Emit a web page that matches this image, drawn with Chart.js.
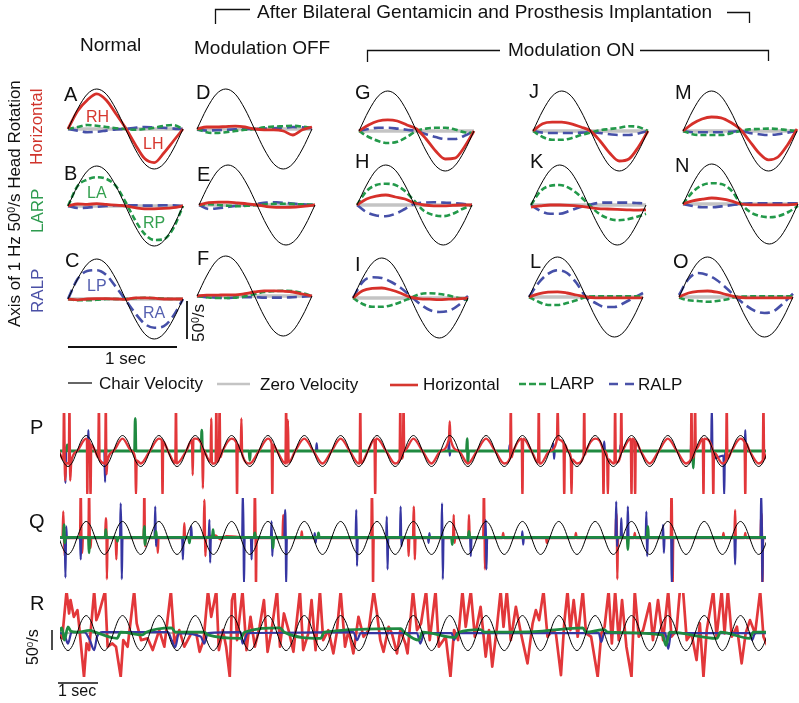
<!DOCTYPE html>
<html><head><meta charset="utf-8">
<script src="https://cdn.jsdelivr.net/npm/chart.js@4.4.1/dist/chart.umd.min.js"></script>
<style>
html,body{margin:0;padding:0;background:#fff;}
#wrap{position:relative;width:799px;height:703px;overflow:hidden;font-family:"Liberation Sans",Arial,Helvetica,sans-serif;color:#111;}
.t{position:absolute;white-space:nowrap;line-height:1;}
.rot{transform-origin:0 0;transform:rotate(-90deg);}
.sup{font-size:0.62em;position:relative;top:-0.5em;}
canvas{position:absolute;}
svg{position:absolute;left:0;top:0;}
</style></head>
<body>
<div id="wrap">
<svg width="799" height="703">
 <g fill="none" stroke="#111" stroke-width="1.3">
  <polyline points="215.5,24 215.5,9.5 250,9.5"/>
  <polyline points="727,12.5 749.5,12.5 749.5,23"/>
  <polyline points="367.5,62 367.5,50.5 500,50.5"/>
  <polyline points="640,50.5 768.5,50.5 768.5,61"/>
  <line x1="187" y1="301" x2="187" y2="339" stroke-width="1.8"/>
  <line x1="68" y1="347" x2="177" y2="347" stroke-width="1.8"/>
  <line x1="52" y1="630" x2="52" y2="650" stroke-width="1.5"/>
  <line x1="58" y1="683" x2="98" y2="683" stroke-width="1.5"/>
  <line x1="68" y1="383" x2="92" y2="383" stroke="#000" stroke-width="1.2"/>
  <line x1="217" y1="384" x2="250" y2="384" stroke="#c4c4c4" stroke-width="2.5"/>
  <line x1="390" y1="385" x2="418" y2="385" stroke="#d6372f" stroke-width="2.6"/>
  <line x1="519" y1="384" x2="547" y2="384" stroke="#2a9a4a" stroke-width="2.6" stroke-dasharray="7 3"/>
  <line x1="609" y1="384" x2="635" y2="384" stroke="#4a52a8" stroke-width="2.6" stroke-dasharray="9 7"/>
 </g>
</svg>
<div class="t" style="left:257px;top:1.5px;font-size:19px">After Bilateral Gentamicin and Prosthesis Implantation</div>
<div class="t" style="left:80px;top:34.5px;font-size:19px">Normal</div>
<div class="t" style="left:194px;top:37.5px;font-size:19px">Modulation OFF</div>
<div class="t" style="left:508px;top:39.5px;font-size:19px">Modulation ON</div>

<div class="t rot" style="left:6px;top:327px;font-size:17px">Axis of 1 Hz 50<span class="sup">0</span>/s Head Rotation</div>
<div class="t rot" style="left:28px;top:165px;font-size:17px;color:#d0342c">Horizontal</div>
<div class="t rot" style="left:29px;top:233px;font-size:17px;color:#2e9b4f">LARP</div>
<div class="t rot" style="left:29px;top:313px;font-size:17px;color:#4b50a6">RALP</div>

<div class="t" style="left:86px;top:109px;font-size:16px;color:#d6372f">RH</div>
<div class="t" style="left:143px;top:136px;font-size:16px;color:#d6372f">LH</div>
<div class="t" style="left:87px;top:185px;font-size:16px;color:#34a050">LA</div>
<div class="t" style="left:143px;top:215px;font-size:16px;color:#34a050">RP</div>
<div class="t" style="left:87px;top:278px;font-size:16px;color:#5560b0">LP</div>
<div class="t" style="left:143px;top:305px;font-size:16px;color:#5560b0">RA</div>

<div class="t rot" style="left:190px;top:342px;font-size:17px">50<span class="sup">0</span>/s</div>
<div class="t" style="left:105px;top:349.5px;font-size:17px">1 sec</div>

<div class="t" style="left:99px;top:375px;font-size:17px">Chair Velocity</div>
<div class="t" style="left:260px;top:376px;font-size:17px">Zero Velocity</div>
<div class="t" style="left:423px;top:376px;font-size:17px">Horizontal</div>
<div class="t" style="left:550px;top:375px;font-size:17px">LARP</div>
<div class="t" style="left:638px;top:376px;font-size:17px">RALP</div>

<div class="t" style="left:30px;top:416.5px;font-size:20px">P</div>
<div class="t" style="left:29px;top:510.5px;font-size:20px">Q</div>
<div class="t" style="left:30px;top:592.5px;font-size:20px">R</div>
<div class="t rot" style="left:25px;top:665px;font-size:16px">50<span class="sup">0</span>/s</div>
<div class="t" style="left:58px;top:683px;font-size:16px">1 sec</div>
</div>

<script>
// ---------------- DATA ----------------
// small panels: one chair cycle, sampled every 1/12 cycle (values in units of the 50 deg/s chair amplitude)
const panelPhase = [0,1,2,3,4,5,6,7,8,9,10,11,12];
const chairPanel = [0,.5,.87,1,.87,.5,0,-.5,-.87,-1,-.87,-.5,0];
const zeroPanel  = [0,0,0,0,0,0,0,0,0,0,0,0,0];
const panelLetters = ['A','B','C','D','E','F','G','H','I','J','K','L','M','N','O'];

const horizA = [0,.45,.72,.88,.72,.38,.03,-.38,-.74,-.84,-.6,-.3,0];
const larpA  = [0,.05,.1,.08,.05,.02,0,-.02,0,.03,.08,.1,0];
const ralpA  = [0,-.04,-.08,-.07,-.04,-.01,0,.03,.05,.04,.03,.01,0];
const horizB = [0,.05,.04,.06,.04,.02,0,-.04,-.07,-.07,-.06,-.04,0];
const larpB  = [0,.5,.66,.72,.68,.5,.1,-.35,-.7,-.85,-.83,-.55,0];
const ralpB  = [0,-.05,-.04,-.02,0,.02,.02,.02,.01,.01,.02,.02,0];
const horizC = [0,-.02,0,.01,.01,0,-.01,.03,.03,.02,0,0,0];
const larpC  = [0,-.03,-.03,-.02,0,0,0,.02,.03,.02,.01,0,0];
const ralpC  = [0,.5,.7,.72,.6,.3,-.02,-.35,-.62,-.72,-.68,-.42,0];
const horizD = [0,.05,.05,.06,.07,.05,0,-.02,-.02,-.05,-.15,-.02,.05];
const larpD  = [0,-.08,-.1,-.08,-.05,-.02,0,.04,.06,.07,.08,.06,.02];
const ralpD  = [-.02,-.04,-.03,-.02,-.01,0,0,.01,.02,.03,.05,.04,.02];
const horizE = [0,.06,.07,.07,.05,.03,0,-.04,-.06,-.06,-.05,-.03,0];
const larpE  = [0,.02,0,-.02,-.03,-.02,0,.02,.03,.03,.02,.01,0];
const ralpE  = [0,-.1,-.08,-.05,-.02,0,.03,.06,.07,.05,.03,.01,0];
const horizF = [0,.02,.02,.03,.03,.06,.1,.13,.13,.12,.1,.05,0];
const larpF  = [0,-.03,-.05,-.05,-.04,-.01,.05,.1,.12,.13,.12,.07,0];
const ralpF  = [0,-.03,-.04,-.05,-.04,-.03,-.03,-.04,-.04,-.04,-.03,-.02,0];
const horizG = [0,.15,.25,.28,.25,.15,.05,-.2,-.5,-.7,-.68,-.4,0];
const larpG  = [0,-.15,-.25,-.3,-.27,-.15,0,.06,.08,.08,.04,-.03,-.05];
const ralpG  = [0,.05,.08,.08,.06,.03,0,-.08,-.15,-.2,-.2,-.12,0];
const horizH = [0,.15,.22,.25,.2,.15,.05,0,-.02,-.02,-.01,0,0];
const larpH  = [0,.35,.5,.53,.5,.35,.1,-.15,-.25,-.28,-.22,-.1,0];
const ralpH  = [0,-.18,-.26,-.28,-.22,-.1,.03,.06,.07,.06,.05,.03,0];
const horizI = [0,.18,.24,.25,.2,.12,.02,-.02,-.03,-.04,-.03,-.02,0];
const larpI  = [0,-.15,-.22,-.22,-.18,-.1,0,.1,.12,.1,.06,0,-.05];
const ralpI  = [0,.4,.52,.5,.4,.25,.05,-.15,-.3,-.35,-.32,-.18,.05];
const horizJ = [0,.18,.22,.22,.18,.1,0,-.25,-.55,-.75,-.7,-.4,0];
const larpJ  = [0,-.15,-.22,-.22,-.18,-.1,-.04,.02,.05,.08,.12,.1,0];
const ralpJ  = [0,-.04,-.05,-.05,-.05,-.04,-.03,-.05,-.08,-.1,-.1,-.06,0];
const horizK = [-.05,-.02,0,0,-.01,-.03,-.06,-.09,-.1,-.11,-.12,-.13,-.12];
const larpK  = [0,.35,.48,.5,.42,.25,.02,-.2,-.33,-.38,-.36,-.3,-.22];
const ralpK  = [0,-.15,-.22,-.22,-.15,-.06,0,.05,.06,.06,.06,.05,.04];
const horizL = [0,.08,.12,.13,.1,.05,0,-.02,-.02,-.02,-.02,-.02,-.02];
const larpL  = [0,-.12,-.2,-.2,-.15,-.08,0,.02,.02,.02,.02,.02,.02];
const ralpL  = [0,.35,.58,.67,.6,.35,0,-.15,-.25,-.25,-.15,-.02,.1];
const horizM = [0,.18,.3,.35,.33,.22,.05,-.25,-.55,-.72,-.65,-.35,.05];
const larpM  = [0,-.08,-.1,-.1,-.1,-.06,0,.04,.05,.06,.05,.02,0];
const ralpM  = [0,-.03,-.03,-.03,-.03,-.02,0,-.05,-.08,-.1,-.08,-.04,0];
const horizN = [0,.08,.12,.15,.13,.08,0,-.02,-.02,-.02,-.02,-.02,0];
const larpN  = [0,.3,.47,.52,.5,.35,.02,-.2,-.3,-.33,-.3,-.2,-.05];
const ralpN  = [0,-.05,-.08,-.08,-.06,-.03,0,.02,.02,.02,.02,.02,.02];
const horizO = [0,.1,.14,.15,.12,.06,0,-.02,-.02,-.02,-.02,-.02,-.02];
const larpO  = [-.02,-.08,-.1,-.12,-.1,-.06,0,.01,.02,.02,.02,.02,.02];
const ralpO  = [.05,.45,.6,.55,.42,.22,0,-.2,-.35,-.4,-.35,-.15,.08];

// long recordings: chair velocity sampled 8 times per second (1 Hz rotation)
const chairRate = 8;
const chairTrace = [
0,-.71,-1,-.71,0,.71,1,.71, 0,-.71,-1,-.71,0,.71,1,.71, 0,-.71,-1,-.71,0,.71,1,.71, 0,-.71,-1,-.71,0,.71,1,.71,
0,-.71,-1,-.71,0,.71,1,.71, 0,-.71,-1,-.71,0,.71,1,.71, 0,-.71,-1,-.71,0,.71,1,.71, 0,-.71,-1,-.71,0,.71,1,.71,
0,-.71,-1,-.71,0,.71,1,.71, 0,-.71,-1,-.71,0,.71,1,.71, 0,-.71,-1,-.71,0,.71,1,.71, 0,-.71,-1,-.71,0,.71,1,.71,
0,-.71,-1,-.71,0,.71,1,.71, 0,-.71,-1,-.71,0,.71,1,.71, 0,-.71,-1,-.71,0,.71,1,.71, 0,-.71,-1,-.71,0,.71,1,.71,
0,-.71,-1,-.71,0,.71,1,.71, 0,-.71,-1,-.71,0,.71,1,.71, 0,-.71,-1,-.71,0,.71,1,.71, 0,-.71,-1,-.71,0
];
const zeroTrace = [[0,0],[19.5,0]];

// P: eye velocity [time s, velocity in chair-amplitude units]
const horizP = [[0,0],[.12,-.55],[.14,3],[.17,-1.9],[.2,-.78],[.27,-.8],[.29,3],[.31,-1.9],[.34,-.7],[.5,0],[.75,.8],[.77,.75],[.78,-3],[.8,.7],[.85,.5],[.87,-3],[.89,.4],[1,0],[1.08,-.4],[1.1,3],[1.12,-.55],[1.25,-.8],[1.27,-.8],[1.29,3],[1.31,-1.5],[1.33,-.7],[1.5,0],[1.75,.8],[2,0],[2.1,-.5],[2.12,-3],[2.14,-.6],[2.25,-.8],[2.5,0],[2.75,.8],[2.83,.7],[2.85,-3],[2.87,.6],[3,0],[3.2,-.78],[3.22,3],[3.24,-.8],[3.5,0],[3.66,.7],[3.68,-1.55],[3.7,.78],[3.75,.8],[3.94,.3],[3.96,-2.4],[3.98,.1],[4,0],[4.17,-.7],[4.19,2.1],[4.21,-.8],[4.25,-.8],[4.31,-.76],[4.33,3],[4.35,-.7],[4.4,-.5],[4.42,3],[4.44,-.4],[4.5,0],[4.75,.8],[4.88,.55],[4.9,-3],[4.92,.4],[5,0],[5.02,2.1],[5.04,-.2],[5.25,-.8],[5.5,0],[5.75,.8],[5.85,.5],[5.87,-3],[5.89,.4],[6,0],[6.23,-.8],[6.25,3],[6.27,-.8],[6.28,-.8],[6.3,2],[6.32,-.75],[6.5,0],[6.75,.8],[7,0],[7.25,-.8],[7.5,0],[7.75,.8],[8,0],[8.25,-.8],[8.27,-.8],[8.29,3],[8.31,-.78],[8.5,0],[8.68,.75],[8.7,-3],[8.72,.8],[8.75,.8],[9,0],[9.25,-.8],[9.37,-.55],[9.39,3],[9.41,-.5],[9.46,-.35],[9.48,3],[9.5,0],[9.75,.8],[10,0],[10.25,-.8],[10.5,0],[10.73,.8],[10.75,1.9],[10.77,.8],[11,0],[11.25,-.8],[11.5,0],[11.75,.8],[12,0],[12.25,-.8],[12.41,-.45],[12.43,3],[12.45,-.4],[12.5,0],[12.73,.8],[12.75,-3],[12.77,.8],[13,0],[13.18,-.75],[13.2,3],[13.22,-.8],[13.25,-.8],[13.5,0],[13.7,.75],[13.72,3],[13.74,.8],[13.88,.5],[13.9,-3],[13.92,.4],[14,0],[14.08,-.4],[14.1,-3],[14.12,-.55],[14.25,-.8],[14.43,-.35],[14.45,3],[14.47,-.25],[14.5,0],[14.75,.8],[14.96,.1],[14.98,-3],[15,0],[15.08,-.4],[15.1,-3],[15.12,-.55],[15.25,-.8],[15.28,-.78],[15.3,3],[15.32,-.75],[15.45,-.25],[15.47,3],[15.49,-.05],[15.5,0],[15.73,.8],[15.75,-3],[15.77,.8],[15.83,.7],[15.85,-3],[15.87,.6],[16,0],[16.25,-.8],[16.5,0],[16.75,.8],[17,0],[17.25,-.8],[17.38,-.55],[17.4,3],[17.42,-.45],[17.48,-.1],[17.5,3],[17.52,.1],[17.71,.8],[17.73,-3],[17.75,.8],[17.98,.1],[18,-3],[18.02,-.1],[18.25,-.8],[18.35,-.6],[18.37,3],[18.39,-.5],[18.5,0],[18.75,.8],[18.86,.55],[18.88,-3],[18.9,.5],[19,0],[19.25,-.8],[19.36,-.6],[19.38,3],[19.4,-.5],[19.5,0]];
const ralpP = [[0,0],[.16,0],[.18,-2.06],[.2,.3],[.22,0],[.79,0],[.81,1.35],[.83,0],[1.25,0],[1.27,-2],[1.29,.2],[1.31,0],[7.07,0],[7.09,.5],[7.11,0],[10.71,0],[10.73,.7],[10.75,-.3],[10.77,0],[12.38,0],[12.4,.4],[12.42,0],[13.58,0],[13.6,.5],[13.62,-.5],[13.64,0],[14.98,0],[15,.6],[15.02,0],[15.43,0],[15.45,.4],[15.47,0],[17.38,0],[17.4,1],[17.42,0],[17.94,0],[17.96,3],[17.98,-.5],[18.28,-.3],[18.3,-3],[18.32,0],[18.86,0],[18.88,1.35],[18.9,0],[19.5,0]];
const larpP = [[0,0],[.21,0],[.23,.4],[.25,0],[2.08,0],[2.1,2.1],[2.12,0],[3.91,0],[3.93,1.35],[3.95,0],[5.23,0],[5.25,-.6],[5.27,0],[11.21,0],[11.23,.8],[11.25,-.8],[11.27,0],[17.43,0],[17.45,-1.1],[17.47,0],[19.5,0]];

// Q
const horizQ = [[0,0],[.1,.05],[.12,1.6],[.14,0],[.16,-1.1],[.18,0],[.58,0],[.6,3],[.62,0],[.64,-.9],[.66,0],[.81,0],[.83,3],[.85,0],[.87,-.6],[.89,0],[1.27,0],[1.29,1.2],[1.31,0],[1.32,-2.5],[1.34,0],[1.56,0],[1.58,-1.3],[1.6,0],[2.33,0],[2.35,3],[2.37,-.5],[2.39,0],[2.7,0],[2.72,-.9],[2.74,0],[3.43,0],[3.45,.9],[3.47,0],[3.98,0],[4,2.3],[4.02,0],[4.03,-1.1],[4.05,0],[4.3,.15],[4.45,-.1],[4.6,.1],[5.37,0],[5.39,3],[5.41,0],[5.42,-3],[5.44,0],[6.15,0],[6.17,1.4],[6.19,0],[6.66,0],[6.68,.4],[6.7,0],[8.59,0],[8.61,3],[8.63,0],[8.64,-3],[8.66,0],[9.6,0],[9.62,-1.1],[9.64,0],[9.74,0],[9.76,1.9],[9.78,0],[9.79,-1.3],[9.81,0],[10.84,0],[10.86,1.4],[10.88,-.3],[10.9,0],[11.26,0],[11.28,1.4],[11.3,0],[11.67,0],[11.69,3],[11.71,0],[11.72,-1.9],[11.74,0],[12.2,0],[12.22,.3],[12.24,0],[13.4,0],[13.42,-.3],[13.44,0],[14.2,0],[14.22,.3],[14.24,0],[15.31,0],[15.33,1.5],[15.35,0],[15.36,-2.5],[15.38,0],[15.82,0],[15.84,.3],[15.86,0],[16.83,0],[16.85,3],[16.87,0],[16.88,-3],[16.9,0],[18.26,0],[18.28,.3],[18.3,0],[18.58,0],[18.6,1.7],[18.62,0],[18.86,0],[18.88,.3],[18.9,0],[19.3,0],[19.32,1.5],[19.34,0],[19.35,-3],[19.37,0],[19.5,0]];
const ralpQ = [[0,0],[.16,0],[.18,-2.4],[.2,.7],[.22,0],[.58,0],[.6,-1.3],[.62,0],[1.68,0],[1.7,2.1],[1.72,0],[1.73,-2.5],[1.75,0],[2.63,0],[2.65,1.9],[2.67,-.5],[2.69,0],[3.39,0],[3.41,-1.3],[3.43,0],[3.62,0],[3.64,.7],[3.66,0],[4.12,0],[4.14,1.1],[4.16,-1.5],[4.18,0],[5.04,0],[5.06,3],[5.08,0],[5.09,-3],[5.11,0],[5.28,0],[5.3,-1.3],[5.32,0],[5.83,0],[5.85,1],[5.87,-1.1],[5.89,0],[6.2,0],[6.22,1.7],[6.24,0],[6.25,-3],[6.27,0],[7.02,0],[7.04,.3],[7.06,-.3],[7.08,0],[8.16,0],[8.18,1.7],[8.2,-1.7],[8.22,0],[9,0],[9.02,1.3],[9.04,-1.9],[9.06,0],[9.38,0],[9.4,1.9],[9.42,-.5],[9.44,0],[10.15,0],[10.17,-.3],[10.19,.3],[10.21,0],[10.52,0],[10.54,2.1],[10.56,-2.5],[10.58,0],[11.31,0],[11.33,-1.1],[11.35,0],[11.72,0],[11.74,1.1],[11.76,-1.9],[11.78,0],[12.73,0],[12.75,.4],[12.77,-.4],[12.79,0],[15.31,0],[15.33,2.2],[15.35,-.5],[15.37,0],[15.45,0],[15.47,1.2],[15.49,0],[15.63,0],[15.65,1.9],[15.67,0],[16.14,0],[16.16,1.6],[16.18,-1.1],[16.2,0],[16.6,0],[16.62,.8],[16.64,-.9],[16.66,0],[16.84,0],[16.86,-3],[16.88,0],[18.58,0],[18.6,-1.6],[18.62,0],[19.3,0],[19.32,3],[19.34,0],[19.35,-3],[19.37,0],[19.5,0]];
const larpQ = [[0,.03],[.12,.03],[.14,.8],[.16,-.3],[.18,.03],[.81,.03],[.83,-.9],[.85,.03],[1.27,.03],[1.29,.5],[1.31,.03],[1.59,.03],[1.61,-.2],[1.63,.03],[2.33,.03],[2.35,.7],[2.37,-.4],[2.39,.03],[2.65,.03],[2.67,.4],[2.69,.03],[3.57,.03],[3.59,-.3],[3.61,.03],[4.22,.03],[4.24,.5],[4.26,.03],[5.37,.03],[5.39,.3],[5.41,.03],[5.87,.03],[5.89,-.6],[5.91,.03],[7.12,.03],[7.14,.3],[7.16,.03],[10.8,.03],[10.82,-.4],[10.84,.03],[11.26,.03],[11.28,.4],[11.3,.03],[15.63,.03],[15.65,-.7],[15.67,.03],[16.18,.03],[16.2,.7],[16.22,.03],[19.5,.03]];

// R
const horizR = [[0,-.02],[.09,-.3],[.21,2.4],[.28,1.12],[.32,1.89],[.41,.93],[.51,1.31],[.55,.55],[.69,-2.5],[.76,-.59],[.83,-.97],[.97,2.4],[1.03,.74],[1.1,1.12],[1.27,2.4],[1.34,-.78],[1.47,-.59],[1.57,-.78],[1.7,-2.5],[1.77,-.4],[1.89,-.78],[2.07,2.4],[2.14,.55],[2.26,-.4],[2.44,-.3],[2.58,-.97],[2.76,.17],[2.9,-.78],[3.08,2.4],[3.18,-.59],[3.31,.17],[3.45,-.78],[3.64,-.02],[3.78,-.02],[3.87,-1.07],[3.98,-.4],[4.1,2.4],[4.19,.93],[4.33,2.4],[4.4,-.97],[4.51,.17],[4.6,-.78],[4.7,-2.5],[4.76,1.89],[4.83,2.4],[4.9,-.4],[5.05,2.4],[5.16,-.97],[5.27,.93],[5.39,-.78],[5.52,.36],[5.64,1.89],[5.74,-1.07],[5.85,.17],[6,2.4],[6.08,-.78],[6.19,1.12],[6.34,-.02],[6.45,-1.07],[6.63,2.4],[6.72,-.97],[6.86,-.02],[6.95,1.89],[7.06,-.97],[7.18,2.4],[7.27,-.4],[7.41,.17],[7.55,-1.16],[7.64,-.02],[7.75,2.4],[7.87,-.78],[7.97,.17],[8.1,-1.16],[8.24,.93],[8.38,-.21],[8.52,.17],[8.66,2.4],[8.75,1.12],[8.84,-.4],[8.93,-1.07],[9.07,.36],[9.16,-.02],[9.3,-1.16],[9.39,.17],[9.53,-.59],[9.59,-1.16],[9.74,2.4],[9.85,.17],[9.96,.55],[10.1,2.4],[10.2,-.4],[10.36,2.4],[10.45,-.78],[10.64,-.21],[10.77,-2.5],[10.87,.17],[10.98,-.4],[11.1,2.4],[11.19,.36],[11.33,2.4],[11.44,-.21],[11.6,1.5],[11.74,-1.35],[11.83,.17],[11.92,-1.92],[12.04,.17],[12.15,2.4],[12.23,.36],[12.32,2.4],[12.43,-.4],[12.57,1.5],[12.71,-.02],[12.89,-1.73],[13.03,.55],[13.12,1.31],[13.21,.74],[13.33,2.4],[13.44,-.21],[13.58,.17],[13.67,-.02],[13.81,-2.4],[13.9,.55],[13.99,2.4],[14.07,.17],[14.16,1.89],[14.27,-.21],[14.41,2.4],[14.5,-.02],[14.64,-.21],[14.82,-2.5],[14.92,-.02],[15.01,.36],[15.12,2.4],[15.21,-.59],[15.3,2.4],[15.4,-.4],[15.49,1.89],[15.61,-.78],[15.75,-2.5],[15.84,2.4],[15.95,-.21],[16.07,.17],[16.25,1.7],[16.34,-.4],[16.48,1.89],[16.62,-.4],[16.76,2.4],[16.85,-.21],[16.99,.17],[17.08,2.4],[17.17,2.4],[17.27,-.4],[17.4,-.02],[17.54,-1.54],[17.63,.55],[17.73,-2.5],[17.82,.17],[18,2.4],[18.09,-.21],[18.23,2.4],[18.31,-.02],[18.4,2.4],[18.51,-.21],[18.65,.36],[18.78,-1.73],[18.89,-.02],[19.01,.74],[19.15,-.02],[19.29,2.4],[19.38,-.21],[19.48,-.69]];
const ralpR = [[0,.02],[.15,-.1],[.25,-.6],[.35,.05],[.7,.05],[.85,-.4],[.97,-.97],[1.05,-.2],[1.2,.05],[3,.05],[3.1,-.4],[3.2,-.8],[3.3,0],[3.9,-.2],[4,-.6],[4.1,0],[5,.05],[5.05,-.6],[5.2,0],[6.2,.02],[8.1,.05],[8.2,-.4],[8.3,0],[9.85,0],[9.94,-.6],[10.05,0],[10.8,0],[10.87,-.4],[10.95,0],[14.85,0],[14.92,-.5],[15,0],[16.68,0],[16.76,-.9],[16.84,0],[19,0],[19.07,-.4],[19.15,0],[19.5,0]];
const larpR = [[0,.05],[.08,.3],[.15,-.4],[.25,.35],[.33,.1],[.5,.05],[.85,.15],[1,.05],[1.6,-.3],[1.7,.05],[2.3,-.1],[2.4,.05],[3.1,.3],[3.2,.05],[4,.05],[4.1,-.1],[5,-.3],[5.1,.05],[6.08,.3],[6.2,.05],[7.2,-.3],[7.3,.05],[9.4,.25],[9.5,.05],[9.9,-.4],[10,.05],[10.9,-.25],[11,.05],[11.6,.2],[11.7,.05],[13.2,.1],[14.41,.3],[14.5,.05],[15,.2],[15.1,.05],[16.6,-.1],[16.7,-.7],[16.8,.05],[18.1,-.3],[18.2,.05],[19,-.3],[19.1,.05],[19.5,.05]];

// ---------------- DRAWING ----------------
const COL = {chair:'#000000', zero:'#c4c4c4', red:'#d6302a', green:'#23994a', blue:'#4650a8',
             red2:'#e2373a', green2:'#1f8a40', blue2:'#3636a2', zero2:'#b4b4b4'};
const wrap = document.getElementById('wrap');
function addCanvas(left, top, w, h){
  const c = document.createElement('canvas');
  c.width = w; c.height = h;
  c.style.left = left+'px'; c.style.top = top+'px';
  c.style.width = w+'px'; c.style.height = h+'px';
  wrap.insertBefore(c, wrap.firstChild.nextSibling);
  return c;
}
function opts(xmin,xmax,ymin,ymax,pad){
  return {responsive:false, animation:false, events:[], devicePixelRatio:1,
    layout:{padding:pad},
    plugins:{legend:{display:false}, tooltip:{enabled:false}},
    elements:{point:{radius:0}},
    scales:{x:{type:'linear',display:false,min:xmin,max:xmax},
            y:{type:'linear',display:false,min:ymin,max:ymax}}};
}
function ds(data,color,width,dash,clip,straight){
  const d = {data, borderColor:color, borderWidth:width, borderDash:dash||[], fill:false,
          pointRadius:0, clip:clip, borderCapStyle:'butt', borderJoinStyle:'round'};
  if (straight) { d.tension = 0; } else { d.cubicInterpolationMode = 'monotone'; }
  return d;
}
const xy = (xs,ys)=>ys.map((v,i)=>({x:xs[i],y:v}));
const pairs = arr=>arr.map(p=>({x:p[0],y:p[1]}));

const panelData = {
 A:[horizA,larpA,ralpA], B:[horizB,larpB,ralpB], C:[horizC,larpC,ralpC],
 D:[horizD,larpD,ralpD], E:[horizE,larpE,ralpE], F:[horizF,larpF,ralpF],
 G:[horizG,larpG,ralpG], H:[horizH,larpH,ralpH], I:[horizI,larpI,ralpI],
 J:[horizJ,larpJ,ralpJ], K:[horizK,larpK,ralpK], L:[horizL,larpL,ralpL],
 M:[horizM,larpM,ralpM], N:[horizN,larpN,ralpN], O:[horizO,larpO,ralpO]
};
// layout: [left px, right px, zero-line px]
const panelBox = {
 A:[68,183,129], D:[197,312,129], G:[359,474,131], J:[533,648,131], M:[683,797,131],
 B:[68,183,206], E:[199,315,205], H:[357,472,205], K:[531,646,205], N:[683,798,204],
 C:[68,183,299], F:[197,312,296], I:[353,468,298], L:[529,643,297], O:[679,793,297]
};
const letterPos = {
 A:[64,84],D:[196,81.5],G:[355,81.5],J:[529,80.5],M:[675,81.5],
 B:[64,163],E:[197,163.5],H:[355,150.5],K:[530,150.5],N:[675,154.5],
 C:[65,249.5],F:[197,247.5],I:[355,253.5],L:[530,250.5],O:[673,250.5]
};
const PAD = 6, AMP = 40;
panelLetters.forEach(L=>{
  const [x0,x1,yc] = panelBox[L];
  const [h,g,b] = panelData[L];
  const c = addCanvas(x0-PAD, yc-1.25*AMP-PAD, x1-x0+2*PAD, 2.5*AMP+2*PAD);
  new Chart(c, {type:'line', data:{datasets:[
    ds(xy(panelPhase,chairPanel),COL.chair,1,null,false),
    ds(xy(panelPhase,h),COL.red,2.8,null,false),
    ds(xy(panelPhase,g),COL.green,2.6,[6,3],false),
    ds(xy(panelPhase,b),COL.blue,2.6,[10,5],false),
    ds(xy(panelPhase,zeroPanel),COL.zero,3.5,null,false)
  ]}, options:opts(0,12,-1.25,1.25,PAD)});
  const d = document.createElement('div');
  d.className='t'; d.style.left=letterPos[L][0]+'px'; d.style.top=letterPos[L][1]+'px';
  d.style.fontSize='20px'; d.textContent=L; wrap.appendChild(d);
});

const chairXY = chairTrace.map((v,i)=>({x:i/chairRate,y:v}));
// layout: [top px, bottom px, y max, y min]
const traces = [
 {top:413, bot:494, ymax:2.45, ymin:-2.77, h:horizP, g:larpP, b:ralpP, order:'rgb', straightRed:false},
 {top:498, bot:582, ymax:2.42, ymin:-2.67, h:horizQ, g:larpQ, b:ralpQ, order:'gbr', straightRed:false},
 {top:593, bot:677, ymax:2.29, ymin:-2.51, h:horizR, g:larpR, b:ralpR, order:'gbr', straightRed:true}
];
traces.forEach(T=>{
  const c = addCanvas(60, T.top, 706, T.bot-T.top);
  const sets = {
    r: ds(pairs(T.h),COL.red2,T.straightRed?2.7:2.4,null,0,T.straightRed),
    g: ds(pairs(T.g),COL.green2,2.8,null,0),
    b: ds(pairs(T.b),COL.blue2,2.2,null,0)
  };
  const list = [ds(chairXY,COL.chair,1,null,0)];
  for (const k of T.order) list.push(sets[k]);
  list.push(ds(pairs(zeroTrace),COL.zero2,2,null,0));
  new Chart(c, {type:'line', data:{datasets:list}, options:opts(.03,19.45,T.ymin,T.ymax,0)});
});
</script>
</body></html>
